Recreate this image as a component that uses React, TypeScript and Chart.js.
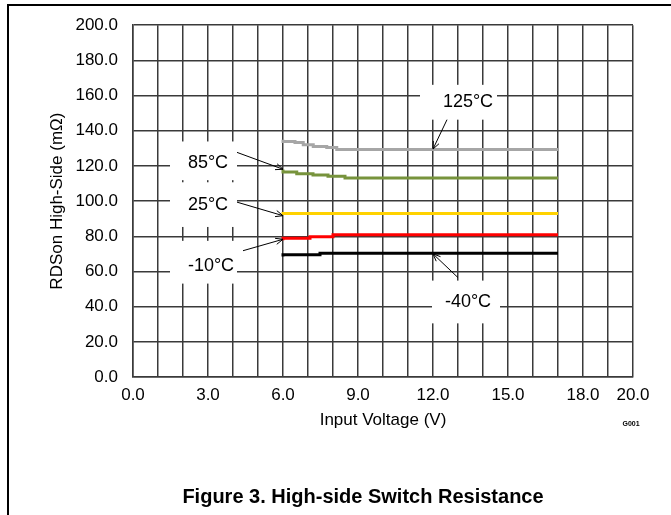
import React, { useEffect, useRef } from 'react';
import { Chart, registerables } from 'chart.js';

Chart.register(...registerables);

// ---- Data ----
const gridVoltages = [0, 1, 2, 3, 4, 5, 6, 7, 8, 9, 10, 11, 12, 13, 14, 15, 16, 17, 18, 19, 20];
const labeledVoltages = [0, 3, 6, 9, 12, 15, 18, 20];

const v125 = [6.0, 6.48, 6.81, 7.21, 7.75, 8.15, 8.61, 17.0];
const r125 = [134.9, 133.9, 133.3, 132.0, 131.1, 130.5, 129.3, 129.3];

const v85 = [6.0, 6.55, 7.2, 7.8, 8.48, 14.95, 17.0];
const r85 = [117.9, 116.5, 115.6, 114.8, 114.1, 113.2, 113.2];

const v25 = [6.0, 9.05, 17.0];
const r25 = [92.1, 93.0, 93.0];

const vMinus10 = [6.0, 7.08, 8.0, 9.05, 17.0];
const rMinus10 = [77.8, 78.9, 79.8, 80.9, 80.9];

const vMinus40 = [6.0, 7.48, 9.05, 17.0];
const rMinus40 = [68.5, 69.5, 70.4, 70.4];

const seriesNames = ['125°C', '85°C', '25°C', '-10°C', '-40°C'];

// ---- Styling / annotation layout (data coordinates) ----
const FONT = "'Liberation Sans', Arial, sans-serif";
const seriesColors = ['#A6A6A6', '#77933C', '#FFD200', '#FF0000', '#000000'];

const annotations = [
  { text: '125°C', box: [11.48, 14.56, 146.3, 166.1], at: [13.4, 156.5], from: [12.56, 146.3], to: [12.0, 129.6] },
  { text: '85°C', box: [1.48, 4.16, 111.9, 133.9], at: [3.0, 121.5], from: [4.16, 127.7], to: [6.0, 118.1] },
  { text: '25°C', box: [1.48, 4.16, 85.3, 110.7], at: [3.0, 97.7], from: [4.16, 99.4], to: [6.0, 91.7] },
  { text: '-10°C', box: [1.48, 4.16, 53.1, 77.4], at: [3.12, 63.3], from: [4.4, 71.8], to: [6.0, 78.3] },
  { text: '-40°C', box: [11.96, 14.68, 30.5, 54.8], at: [13.4, 42.4], from: [13.0, 56.5], to: [12.0, 70.0] },
];

const toPoints = (xs: number[], ys: number[]) => xs.map((x, i) => ({ x, y: ys[i] }));

const annotationPlugin = {
  id: 'figAnnotations',
  beforeDatasetsDraw(chart: any) {
    const { ctx, scales } = chart;
    const xs = scales.x, ys = scales.y;
    ctx.save();
    ctx.fillStyle = '#ffffff';
    for (const a of annotations) {
      const x0 = xs.getPixelForValue(a.box[0]);
      const x1 = xs.getPixelForValue(a.box[1]);
      const y0 = ys.getPixelForValue(a.box[3]);
      const y1 = ys.getPixelForValue(a.box[2]);
      ctx.fillRect(x0, y0, x1 - x0, y1 - y0);
    }
    ctx.restore();
  },
  afterDatasetsDraw(chart: any) {
    const { ctx, scales } = chart;
    const xs = scales.x, ys = scales.y;
    ctx.save();
    ctx.fillStyle = '#000';
    ctx.font = `18px ${FONT}`;
    ctx.textAlign = 'center';
    ctx.textBaseline = 'middle';
    for (const a of annotations) {
      ctx.fillText(a.text, xs.getPixelForValue(a.at[0]), ys.getPixelForValue(a.at[1]));
      const fx = xs.getPixelForValue(a.from[0]);
      const fy = ys.getPixelForValue(a.from[1]);
      const tx = xs.getPixelForValue(a.to[0]);
      const ty = ys.getPixelForValue(a.to[1]);
      ctx.strokeStyle = '#000';
      ctx.lineWidth = 1;
      ctx.beginPath();
      ctx.moveTo(fx, fy);
      ctx.lineTo(tx, ty);
      const ang = Math.atan2(ty - fy, tx - fx);
      const L = 8;
      ctx.moveTo(tx, ty);
      ctx.lineTo(tx - L * Math.cos(ang - 0.4), ty - L * Math.sin(ang - 0.4));
      ctx.moveTo(tx, ty);
      ctx.lineTo(tx - L * Math.cos(ang + 0.4), ty - L * Math.sin(ang + 0.4));
      ctx.stroke();
    }
    ctx.restore();
  },
  afterDraw(chart: any) {
    const { ctx, width, height } = chart;
    ctx.save();
    // page frame
    ctx.strokeStyle = '#000';
    ctx.lineWidth = 2;
    ctx.beginPath();
    ctx.moveTo(8, height);
    ctx.lineTo(8, 5);
    ctx.lineTo(width, 5);
    ctx.stroke();
    // G001 tag
    ctx.fillStyle = '#000';
    ctx.font = `bold 7px ${FONT}`;
    ctx.textAlign = 'center';
    ctx.textBaseline = 'middle';
    ctx.fillText('G001', 631, 424);
    // caption
    ctx.font = `bold 20px ${FONT}`;
    ctx.fillText('Figure 3. High-side Switch Resistance', 363, 497);
    ctx.restore();
  },
};

export default function App() {
  const ref = useRef<HTMLCanvasElement | null>(null);

  useEffect(() => {
    if (!ref.current) return;
    const gridColor = '#3a3a3a';
    const chart = new Chart(ref.current, {
      type: 'line',
      data: {
        datasets: [
          { label: seriesNames[0], data: toPoints(v125, r125) },
          { label: seriesNames[1], data: toPoints(v85, r85) },
          { label: seriesNames[2], data: toPoints(v25, r25) },
          { label: seriesNames[3], data: toPoints(vMinus10, rMinus10) },
          { label: seriesNames[4], data: toPoints(vMinus40, rMinus40) },
        ].map((d, i) => ({
          ...d,
          borderColor: seriesColors[i],
          backgroundColor: seriesColors[i],
          borderWidth: 3,
          pointRadius: 0,
          fill: false,
          stepped: 'after' as const,
        })),
      },
      options: {
        responsive: false,
        animation: false,
        events: [],
        layout: { padding: { left: 0, right: 38, top: 23, bottom: 70 } },
        plugins: { legend: { display: false }, tooltip: { enabled: false }, title: { display: false } },
        scales: {
          x: {
            type: 'linear',
            min: 0,
            max: 20,
            afterBuildTicks: (scale: any) => {
              scale.ticks = gridVoltages.map((v) => ({ value: v }));
            },
            afterFit: (scale: any) => {
              scale.height = 68;
            },
            grid: { color: gridColor, lineWidth: 1.5, drawTicks: false },
            border: { color: gridColor, width: 1.5 },
            ticks: {
              autoSkip: false,
              maxRotation: 0,
              padding: 8,
              color: '#000',
              font: { family: FONT, size: 17 },
              callback: (v: any) => (labeledVoltages.includes(Number(v)) ? Number(v).toFixed(1) : ''),
            },
            title: {
              display: true,
              text: 'Input Voltage (V)',
              color: '#000',
              font: { family: FONT, size: 17 },
              padding: { top: 0, bottom: 14 },
            },
          },
          y: {
            type: 'linear',
            min: 0,
            max: 200,
            afterFit: (scale: any) => {
              scale.width = 133;
            },
            grid: { color: gridColor, lineWidth: 1.5, drawTicks: false },
            border: { color: gridColor, width: 1.5 },
            ticks: {
              stepSize: 20,
              padding: 15,
              color: '#000',
              font: { family: FONT, size: 17 },
              callback: (v: any) => Number(v).toFixed(1),
            },
            title: {
              display: true,
              text: 'RDSon High-Side (mΩ)',
              color: '#000',
              font: { family: FONT, size: 17 },
              padding: { top: 47, bottom: 0 },
            },
          },
        },
      },
      plugins: [annotationPlugin],
    });
    return () => chart.destroy();
  }, []);

  return (
    <div style={{ position: 'absolute', left: 0, top: 0, width: 671, height: 515, background: '#fff' }}>
      <canvas ref={ref} width={671} height={515} style={{ display: 'block', width: 671, height: 515 }} />
    </div>
  );
}
